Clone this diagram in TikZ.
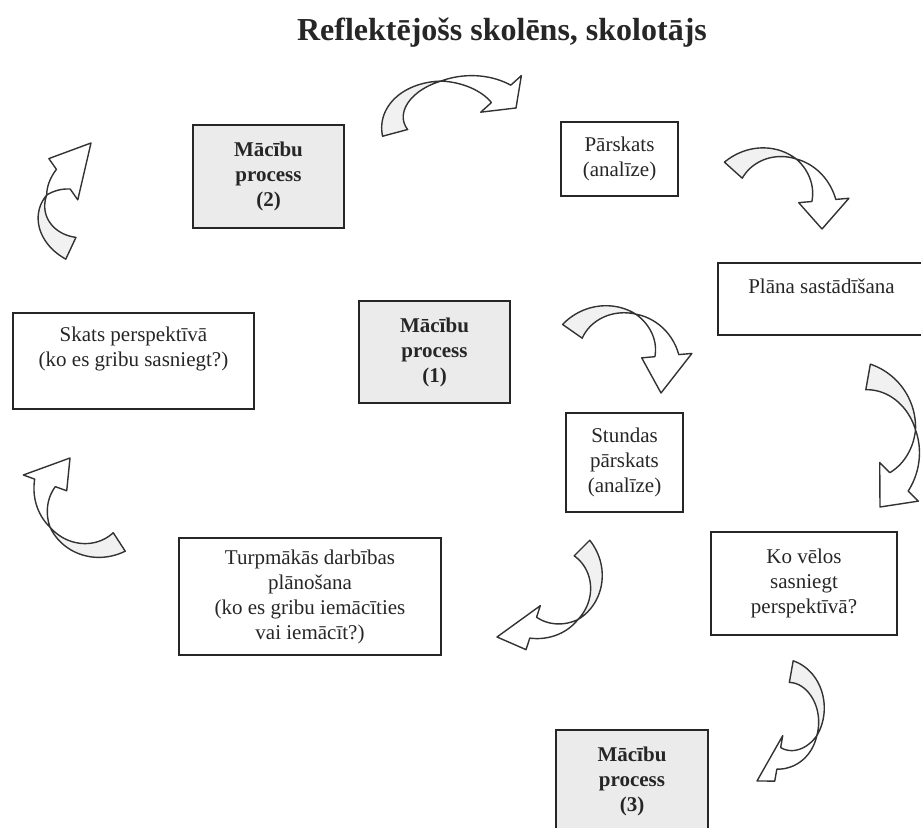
\documentclass[tikz,border=0pt]{standalone}
\usepackage{fontspec}
\setmainfont{Liberation Serif}
\usetikzlibrary{positioning}

% normalised edge offset of a twisted band: 1 at the tail, 0 at the twist, -1 at the head
\pgfmathdeclarefunction{twoff}{1}{%
  \begingroup
  \pgfmathsetmacro\tws{((#1)-(\twA))/((\twB)-(\twA))}%
  \pgfmathparse{\tws<\twF ? (\twF-\tws)/\twF : (\twF-\tws)/(1-\twF)}%
  \pgfmathsmuggle\pgfmathresult
  \endgroup}

% cx, cy, rx, ry, tail angle, head angle, tip, width, twist fraction
\newcommand{\twistarrow}[9]{%
  \def\twA{#5}\def\twB{#6}\def\twF{#9}%
  \pgfmathsetmacro\amid{(#5)+(#9)*((#6)-(#5))}
  \pgfmathsetmacro\hw{0.55*(#8)}
  \draw[arrowback] plot[domain=#5:\amid] ({#1+(#3+#8/2*twoff(\x))*cos(\x)},{#2+(#4+#8/2*twoff(\x))*sin(\x)})
    -- plot[domain=\amid:#5] ({#1+(#3-#8/2*twoff(\x))*cos(\x)},{#2+(#4-#8/2*twoff(\x))*sin(\x)}) -- cycle;
  \draw[arrowfront] plot[domain=\amid:#6] ({#1+(#3+#8/2*twoff(\x))*cos(\x)},{#2+(#4+#8/2*twoff(\x))*sin(\x)})
    -- ({#1+(#3-#8/2-\hw)*cos(#6)},{#2+(#4-#8/2-\hw)*sin(#6)}) -- #7
    -- ({#1+(#3+#8/2+\hw)*cos(#6)},{#2+(#4+#8/2+\hw)*sin(#6)})
    -- plot[domain=#6:\amid] ({#1+(#3-#8/2*twoff(\x))*cos(\x)},{#2+(#4-#8/2*twoff(\x))*sin(\x)}) -- cycle;
}

\tikzset{
  box/.style={draw=black!85, line width=0.7pt, align=center, inner sep=2pt,
    text=black!85, font=\fontsize{10.5}{12.5}\selectfont},
  procbox/.style={box, fill=gray!16, font=\fontsize{10.5}{12.5}\selectfont\bfseries},
  txt/.style={align=center, inner sep=0pt, text=black!85, font=\fontsize{10.5}{12.5}\selectfont},
  arrowback/.style={draw=black!80, line width=0.7pt, fill=gray!11, line join=round, samples=40},
  arrowfront/.style={draw=black!80, line width=0.7pt, fill=white, line join=round, samples=40},
}

\begin{document}
\begin{tikzpicture}[x=0.5pt, y=-0.5pt]
  \useasboundingbox (0,0) rectangle (921,828);

  \node[text=black!85, font=\fontsize{16}{19}\selectfont\bfseries] (title) at (502,33) {Reflektējošs skolēns, skolotājs};

  \node[procbox, minimum width=75.5pt, minimum height=51.5pt] (proc2) at (268.5,176.5) {Mācību\\process\\(2)};
  \node[box, minimum width=58.5pt, minimum height=37pt] (parsk) at (619.5,159) {Pārskats\\(analīze)};
  \node[box, minimum width=103.5pt, minimum height=36pt] (plans) at (821.5,299) {};
  \node[txt, below=8pt of plans.north] (plans-t) {Plāna sastādīšana};
  \node[box, minimum width=120.5pt, minimum height=48pt] (skats) at (133.5,361) {};
  \node[txt, below=7pt of skats.north] (skats-t) {Skats perspektīvā\\(ko es gribu sasniegt?)};
  \node[procbox, minimum width=75.5pt, minimum height=51pt] (proc1) at (434.5,352) {Mācību\\process\\(1)};
  \node[box, minimum width=58.5pt, minimum height=49.5pt] (stund) at (624.5,462.5) {Stundas\\pārskats\\(analīze)};
  \node[box, minimum width=131pt, minimum height=58.5pt] (turpm) at (310,596.5) {Turpmākās darbības\\plānošana\\(ko es gribu iemācīties\\vai iemācīt?)};
  \node[box, minimum width=93pt, minimum height=51.5pt] (kovel) at (804,583.5) {Ko vēlos\\sasniegt\\perspektīvā?};
  \node[procbox, minimum width=76pt, minimum height=51pt] (proc3) at (632,781) {Mācību\\process\\(3)};

  \twistarrow{455}{122}{62}{42}{165}{318}{(516,108)}{26}{0.6}
  \twistarrow{772}{205}{52}{52}{222}{355}{(822,229)}{24}{0.57}
  \twistarrow{858}{438}{58}{62}{280}{405}{(880,507)}{26}{0.58}
  \twistarrow{615}{360}{52}{50}{215}{355}{(661,393)}{24}{0.56}
  \twistarrow{548}{582}{48}{48}{-45}{108}{(497,637)}{22}{0.63}
  \twistarrow{785}{715}{36}{44}{-80}{100}{(757,781)}{22}{0.6}
  \twistarrow{92}{212}{50}{40}{115}{235}{(91,143)}{24}{0.75}
  \twistarrow{92}{500}{50}{50}{57}{200}{(70,458)}{22}{0.63}
\end{tikzpicture}
\end{document}
